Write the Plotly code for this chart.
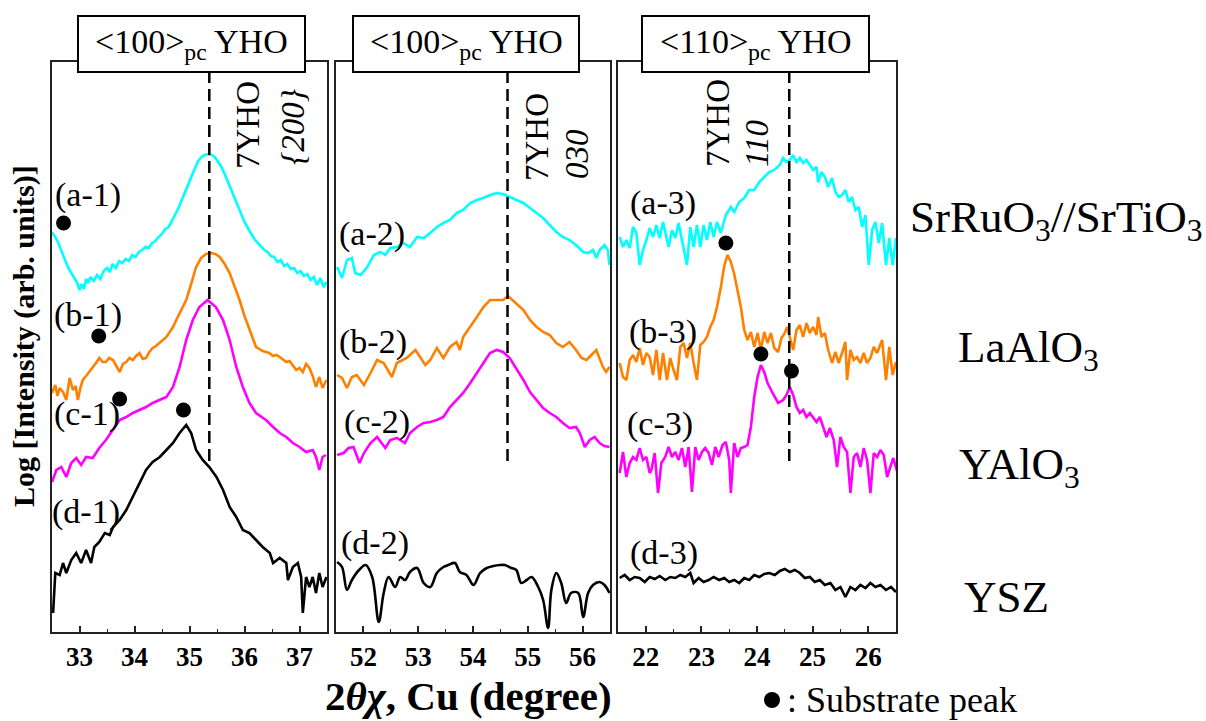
import plotly.graph_objects as go

# ---------------- data (2theta-chi in degrees, offset log-intensity in a.u.) ----------------
# Panel 1 : <100>pc YHO, 7YHO {200}
a1_x = [32.49,32.55,32.60,32.66,32.72,32.78,32.84,32.90,32.96,33.00,
        33.04,33.08,33.12,33.16,33.20,33.26,33.32,33.38,33.44,33.50,
        33.55,33.60,33.66,33.72,33.78,33.84,33.90,33.96,34.02,34.08,
        34.14,34.20,34.26,34.32,34.38,34.44,34.50,34.56,34.62,34.68,
        34.74,34.80,34.86,34.92,34.98,35.04,35.10,35.16,35.22,35.28,
        35.34,35.40,35.46,35.52,35.58,35.64,35.70,35.76,35.82,35.88,
        35.94,36.00,36.06,36.12,36.18,36.24,36.30,36.36,36.42,36.48,
        36.54,36.60,36.66,36.72,36.78,36.84,36.90,36.96,37.02,37.08,
        37.14,37.20,37.26,37.32,37.38,37.44,37.49]
a1_y = [4.00,3.96,3.91,3.82,3.74,3.66,3.60,3.54,3.49,3.42,
        3.48,3.43,3.53,3.49,3.55,3.51,3.57,3.53,3.61,3.64,
        3.60,3.68,3.64,3.71,3.69,3.73,3.71,3.77,3.75,3.80,
        3.82,3.85,3.84,3.89,3.91,3.95,3.98,4.03,4.05,4.11,
        4.17,4.24,4.32,4.40,4.49,4.57,4.64,4.71,4.75,4.77,
        4.78,4.77,4.75,4.70,4.65,4.58,4.50,4.42,4.34,4.26,
        4.18,4.10,4.04,3.98,3.93,3.89,3.85,3.82,3.80,3.76,
        3.75,3.70,3.72,3.66,3.68,3.63,3.64,3.59,3.61,3.56,
        3.58,3.52,3.55,3.47,3.54,3.45,3.50]

b1_x = [32.50,32.56,32.60,32.64,32.70,32.76,32.82,32.88,32.93,32.97,
        33.02,33.06,33.12,33.18,33.24,33.30,33.36,33.42,33.48,33.54,
        33.61,33.67,33.73,33.79,33.85,33.91,33.97,34.03,34.09,34.15,
        34.21,34.27,34.33,34.39,34.45,34.51,34.58,34.64,34.70,34.76,
        34.82,34.88,34.94,35.03,35.12,35.21,35.30,35.39,35.47,35.55,
        35.64,35.73,35.82,35.91,36.00,36.09,36.15,36.21,36.27,36.33,
        36.39,36.45,36.52,36.58,36.64,36.70,36.76,36.82,36.88,36.94,
        37.00,37.06,37.12,37.18,37.24,37.30,37.36,37.42,37.49]
b1_y = [2.39,2.47,2.36,2.44,2.40,2.32,2.54,2.42,2.46,2.32,
        2.45,2.52,2.56,2.60,2.64,2.69,2.74,2.70,2.70,2.74,
        2.72,2.66,2.60,2.68,2.70,2.74,2.72,2.76,2.79,2.73,
        2.74,2.80,2.84,2.86,2.89,2.91,2.95,3.00,3.05,3.12,
        3.19,3.26,3.32,3.48,3.65,3.74,3.78,3.79,3.78,3.75,
        3.68,3.59,3.46,3.32,3.16,3.02,2.93,2.85,2.83,2.81,
        2.80,2.79,2.76,2.77,2.75,2.72,2.70,2.71,2.67,2.62,
        2.64,2.60,2.68,2.64,2.56,2.45,2.55,2.44,2.52]

c1_x = [32.50,32.58,32.67,32.76,32.85,32.94,33.03,33.12,33.24,33.36,
        33.48,33.61,33.73,33.85,33.97,34.09,34.21,34.33,34.45,34.58,
        34.70,34.82,34.94,35.06,35.18,35.33,35.48,35.61,35.73,35.85,
        35.97,36.09,36.21,36.39,36.52,36.64,36.76,36.88,37.00,37.12,
        37.24,37.30,37.36,37.42,37.48]
c1_y = [1.50,1.62,1.65,1.55,1.69,1.74,1.67,1.75,1.74,1.84,
        1.92,2.02,2.12,2.15,2.19,2.22,2.25,2.29,2.32,2.35,
        2.45,2.65,2.92,3.12,3.25,3.32,3.25,3.12,2.92,2.65,
        2.45,2.29,2.19,2.12,2.05,1.99,1.95,1.89,1.85,1.80,
        1.82,1.75,1.62,1.75,1.77]

d1_x = [32.52,32.56,32.64,32.70,32.76,32.85,32.94,33.03,33.12,33.21,
        33.27,33.36,33.46,33.55,33.61,33.73,33.85,33.97,34.09,34.21,
        34.33,34.46,34.58,34.70,34.82,34.94,35.03,35.12,35.24,35.36,
        35.49,35.61,35.73,35.85,35.97,36.09,36.21,36.33,36.46,36.52,
        36.64,36.76,36.79,36.88,36.97,37.03,37.06,37.12,37.18,37.24,
        37.30,37.36,37.42,37.49]
d1_y = [0.19,0.59,0.57,0.69,0.59,0.72,0.79,0.69,0.82,0.69,
        0.85,0.90,0.99,0.97,1.05,1.12,1.22,1.35,1.49,1.62,
        1.70,1.75,1.82,1.89,1.99,2.07,1.99,1.82,1.72,1.65,
        1.55,1.42,1.25,1.15,1.02,0.99,0.92,0.85,0.79,0.69,
        0.74,0.69,0.52,0.65,0.69,0.55,0.19,0.55,0.45,0.55,
        0.39,0.59,0.45,0.55]

# Panel 2 : <100>pc YHO, 7YHO 030
a2_x = [51.52,51.61,51.70,51.79,51.85,51.95,52.07,52.19,52.31,52.40,
        52.49,52.61,52.73,52.85,52.98,53.10,53.22,53.34,53.46,53.58,
        53.70,53.82,53.95,54.07,54.19,54.31,54.43,54.55,54.67,54.79,
        54.92,55.04,55.16,55.28,55.40,55.52,55.64,55.76,55.88,56.01,
        56.10,56.19,56.25,56.31,56.40,56.46,56.49]
a2_y = [3.65,3.54,3.72,3.74,3.59,3.57,3.65,3.77,3.80,3.77,
        3.84,3.85,3.89,3.85,3.95,3.94,3.99,4.05,4.09,4.12,
        4.19,4.22,4.29,4.32,4.34,4.37,4.39,4.38,4.35,4.32,
        4.29,4.24,4.19,4.14,4.07,4.00,3.95,3.92,3.87,3.80,
        3.79,3.82,3.74,3.82,3.87,3.82,3.67]

b2_x = [51.52,51.61,51.70,51.79,51.88,52.01,52.13,52.25,52.37,52.52,
        52.61,52.79,52.95,53.04,53.13,53.22,53.34,53.46,53.58,53.70,
        53.76,53.82,53.95,54.07,54.19,54.31,54.43,54.55,54.64,54.79,
        54.92,55.04,55.16,55.28,55.40,55.52,55.64,55.76,55.88,55.98,
        56.07,56.16,56.25,56.37,56.43,56.49]
b2_y = [2.57,2.54,2.44,2.55,2.57,2.47,2.59,2.72,2.69,2.55,
        2.69,2.74,2.82,2.74,2.67,2.72,2.84,2.74,2.85,2.90,
        2.82,2.95,3.05,3.15,3.25,3.32,3.32,3.32,3.36,3.29,
        3.22,3.12,3.05,3.00,2.97,2.89,2.85,2.90,2.82,2.74,
        2.72,2.77,2.82,2.65,2.60,2.65]

c2_x = [51.52,51.64,51.73,51.82,51.93,52.01,52.13,52.25,52.40,52.49,
        52.61,52.76,52.85,52.98,53.10,53.22,53.34,53.46,53.58,53.70,
        53.82,53.95,54.07,54.19,54.31,54.43,54.55,54.67,54.79,54.92,
        55.04,55.16,55.28,55.40,55.52,55.64,55.76,55.88,55.95,56.04,
        56.13,56.22,56.31,56.40,56.49]
c2_y = [1.77,1.79,1.84,1.85,1.69,1.79,1.89,1.95,1.84,1.92,
        1.94,1.89,1.99,2.05,2.09,2.10,2.12,2.15,2.25,2.32,
        2.39,2.49,2.59,2.70,2.79,2.82,2.80,2.74,2.64,2.52,
        2.40,2.32,2.24,2.19,2.15,2.09,2.04,2.05,1.99,1.85,
        1.92,1.95,1.89,1.86,1.85]

d2_x = [51.52,51.61,51.70,51.79,51.92,52.04,52.16,52.28,52.37,52.46,
        52.58,52.67,52.76,52.85,52.98,53.10,53.22,53.34,53.46,53.55,
        53.67,53.76,53.88,54.01,54.13,54.25,54.37,54.49,54.58,54.70,
        54.79,54.88,54.98,55.07,55.19,55.28,55.37,55.43,55.52,55.61,
        55.70,55.79,55.92,56.01,56.10,56.19,56.31,56.40,56.49]
d2_y = [0.70,0.65,0.42,0.52,0.62,0.67,0.55,0.10,0.39,0.55,
        0.45,0.55,0.52,0.60,0.64,0.49,0.45,0.59,0.65,0.67,
        0.69,0.60,0.57,0.47,0.59,0.64,0.66,0.67,0.67,0.64,
        0.62,0.49,0.52,0.55,0.45,0.32,0.04,0.42,0.59,0.49,
        0.29,0.39,0.39,0.15,0.39,0.47,0.50,0.47,0.39]

# Panel 3 : <110>pc YHO, 7YHO 110
a3_x = [21.53,21.59,21.65,21.71,21.77,21.83,21.89,21.95,22.01,22.07,
        22.13,22.19,22.25,22.31,22.41,22.47,22.53,22.59,22.65,22.74,
        22.80,22.86,22.92,22.98,23.04,23.10,23.16,23.22,23.28,23.35,
        23.44,23.53,23.59,23.68,23.77,23.86,23.95,24.04,24.13,24.22,
        24.31,24.41,24.47,24.53,24.59,24.65,24.71,24.77,24.83,24.89,
        24.95,25.01,25.07,25.10,25.16,25.22,25.28,25.35,25.41,25.47,
        25.53,25.59,25.65,25.71,25.77,25.83,25.89,25.95,26.01,26.07,
        26.13,26.19,26.25,26.32,26.38,26.44,26.50]
a3_y = [3.95,3.85,3.92,3.84,4.05,3.99,3.67,3.82,3.92,4.04,
        3.95,4.07,3.94,4.10,3.85,4.02,3.94,4.09,3.92,3.67,
        4.05,3.85,4.07,3.85,4.07,3.92,4.10,3.95,4.10,3.99,
        4.17,4.25,4.20,4.30,4.34,4.42,4.42,4.50,4.55,4.60,
        4.62,4.67,4.74,4.70,4.72,4.77,4.70,4.74,4.69,4.72,
        4.67,4.62,4.65,4.50,4.60,4.55,4.45,4.54,4.40,4.35,
        4.37,4.42,4.30,4.35,4.22,4.25,4.05,4.17,3.67,4.02,
        4.10,3.89,4.09,3.67,3.94,3.67,3.94]

b3_x = [21.53,21.59,21.65,21.71,21.77,21.83,21.89,21.95,22.01,22.07,
        22.13,22.19,22.25,22.31,22.38,22.44,22.50,22.56,22.62,22.68,
        22.74,22.80,22.86,22.92,22.98,23.04,23.10,23.16,23.22,23.28,
        23.35,23.41,23.47,23.53,23.59,23.65,23.71,23.77,23.83,23.89,
        23.95,24.01,24.07,24.13,24.19,24.25,24.31,24.38,24.44,24.50,
        24.54,24.59,24.65,24.71,24.77,24.83,24.89,24.95,25.01,25.07,
        25.10,25.16,25.22,25.28,25.35,25.41,25.47,25.53,25.59,25.62,
        25.68,25.74,25.80,25.86,25.92,25.98,26.04,26.10,26.16,26.25,
        26.32,26.38,26.44,26.50]
b3_y = [2.69,2.55,2.52,2.72,2.77,2.70,2.84,2.67,2.79,2.75,
        2.57,2.82,2.52,2.79,2.52,2.74,2.62,2.52,2.85,2.89,
        2.74,2.89,2.69,2.52,2.87,2.90,2.95,3.05,3.12,3.25,
        3.45,3.66,3.77,3.70,3.58,3.42,3.25,3.02,2.92,3.00,
        2.85,2.99,2.82,3.00,2.89,2.99,2.84,2.80,2.94,2.99,
        3.05,2.95,2.82,3.02,3.07,2.95,3.09,2.99,3.05,2.97,
        3.15,2.95,2.99,2.82,2.69,2.80,2.69,2.79,2.90,2.52,
        2.82,2.72,2.75,2.69,2.79,2.69,2.74,2.85,2.79,2.92,
        2.52,2.85,2.57,2.70]

c3_x = [21.53,21.59,21.65,21.71,21.77,21.83,21.89,21.95,22.01,22.07,
        22.10,22.16,22.22,22.28,22.35,22.41,22.47,22.53,22.59,22.65,
        22.71,22.77,22.83,22.89,22.95,23.01,23.07,23.13,23.19,23.25,
        23.31,23.38,23.44,23.50,23.53,23.59,23.65,23.71,23.77,23.83,
        23.89,23.95,24.01,24.07,24.13,24.19,24.28,24.38,24.47,24.53,
        24.59,24.65,24.71,24.77,24.83,24.89,24.95,25.01,25.07,25.13,
        25.19,25.25,25.31,25.38,25.44,25.50,25.56,25.62,25.68,25.74,
        25.80,25.86,25.92,25.98,26.04,26.10,26.16,26.22,26.28,26.34,
        26.45,26.53]
c3_y = [1.59,1.80,1.55,1.69,1.75,1.72,1.84,1.72,1.75,1.59,
        1.62,1.79,1.39,1.69,1.75,1.85,1.75,1.80,1.72,1.84,
        1.65,1.85,1.40,1.85,1.72,1.80,1.84,1.79,1.67,1.85,
        1.75,1.87,1.90,1.72,1.39,1.89,1.75,1.84,1.85,1.87,
        2.05,2.35,2.55,2.67,2.60,2.49,2.39,2.29,2.32,2.37,
        2.45,2.37,2.25,2.19,2.22,2.15,2.19,2.14,2.10,2.15,
        2.04,1.95,2.04,1.92,1.65,1.95,1.85,1.80,1.39,1.75,
        1.79,1.65,1.84,1.72,1.39,1.79,1.75,1.82,1.77,1.55,
        1.74,1.59]

d3_x = [21.53,21.62,21.71,21.80,21.89,21.98,22.07,22.16,22.25,22.35,
        22.44,22.53,22.62,22.71,22.80,22.86,22.95,23.04,23.13,23.22,
        23.32,23.41,23.50,23.59,23.68,23.77,23.86,23.95,24.04,24.13,
        24.22,24.32,24.41,24.50,24.59,24.68,24.77,24.86,24.95,25.04,
        25.13,25.22,25.32,25.41,25.50,25.59,25.68,25.77,25.86,25.95,
        26.04,26.13,26.22,26.32,26.41,26.50]
d3_y = [0.54,0.57,0.52,0.55,0.54,0.50,0.55,0.53,0.56,0.52,
        0.55,0.54,0.57,0.55,0.59,0.49,0.54,0.50,0.52,0.55,
        0.52,0.54,0.50,0.52,0.49,0.54,0.52,0.57,0.55,0.58,
        0.59,0.57,0.61,0.63,0.60,0.62,0.59,0.54,0.55,0.50,
        0.52,0.47,0.49,0.42,0.45,0.35,0.45,0.42,0.47,0.44,
        0.49,0.45,0.47,0.42,0.45,0.40]

# substrate peak markers
sub1_x = [32.71, 33.35, 33.73, 34.89]
sub1_y = [4.09, 2.96, 2.33, 2.22]
sub3_x = [23.44, 24.07, 24.62]
sub3_y = [3.89, 2.78, 2.61]

# 7YHO reference peak positions (dashed lines) and their y extent
peak_pos = [35.36, 54.63, 24.58]
peak_y = [1.71, 5.62]

x_ranges = [[32.5, 37.5], [51.5, 56.5], [21.5, 26.5]]
tick_vals = [[33, 34, 35, 36, 37], [52, 53, 54, 55, 56], [22, 23, 24, 25, 26]]
panel_titles = ["&lt;100&gt;<sub>pc</sub> YHO", "&lt;100&gt;<sub>pc</sub> YHO",
                "&lt;110&gt;<sub>pc</sub> YHO"]
substrates = ["SrRuO<sub>3</sub>//SrTiO<sub>3</sub>", "LaAlO<sub>3</sub>",
              "YAlO<sub>3</sub>", "YSZ"]

for xs, ys in [(a1_x, a1_y), (b1_x, b1_y), (c1_x, c1_y), (d1_x, d1_y),
               (a2_x, a2_y), (b2_x, b2_y), (c2_x, c2_y), (d2_x, d2_y),
               (a3_x, a3_y), (b3_x, b3_y), (c3_x, c3_y), (d3_x, d3_y)]:
    assert len(xs) == len(ys), (len(xs), len(ys))

# ---------------- figure ----------------
W, H = 1206, 721
ML, MR, MT, MB = 52, 310, 62, 89
PW, PH = W - ML - MR, H - MT - MB


def px(x):
    return (x - ML) / PW


def py(y):
    return (H - MB - y) / PH


FONT = "Liberation Serif, Times New Roman, serif"
CY, OR, MG, BK = "#00FFFF", "#FF8000", "#FF00FF", "#000000"

fig = go.Figure()
series = [
    ("x", "y", [(a1_x, a1_y, CY), (b1_x, b1_y, OR), (c1_x, c1_y, MG), (d1_x, d1_y, BK)]),
    ("x2", "y2", [(a2_x, a2_y, CY), (b2_x, b2_y, OR), (c2_x, c2_y, MG), (d2_x, d2_y, BK)]),
    ("x3", "y3", [(a3_x, a3_y, CY), (b3_x, b3_y, OR), (c3_x, c3_y, MG), (d3_x, d3_y, BK)]),
]
for xa, ya, curves in series:
    for xs, ys, col in curves:
        shape = "spline" if (xa == "x2" and col == BK) else "linear"
        fig.add_trace(go.Scatter(x=xs, y=ys, mode="lines", xaxis=xa, yaxis=ya,
                                 line=dict(color=col, width=2.6, shape=shape),
                                 showlegend=False, hoverinfo="skip"))

fig.add_trace(go.Scatter(x=sub1_x, y=sub1_y, mode="markers", xaxis="x", yaxis="y",
                         marker=dict(color="black", size=15), showlegend=False))
fig.add_trace(go.Scatter(x=sub3_x, y=sub3_y, mode="markers", xaxis="x3", yaxis="y3",
                         marker=dict(color="black", size=15), showlegend=False))

domains = [[px(52), px(327)], [px(336), px(610)], [px(618), px(896)]]
layout = dict(width=W, height=H, margin=dict(l=ML, r=MR, t=MT, b=MB),
              paper_bgcolor="white", plot_bgcolor="white", showlegend=False)
for i in range(3):
    sfx = "" if i == 0 else str(i + 1)
    layout["xaxis" + sfx] = dict(
        domain=domains[i], range=x_ranges[i], anchor="y" + sfx,
        showline=True, mirror=True, linecolor="#222", linewidth=2,
        ticks="inside", ticklen=6, tickwidth=1.5, tickcolor="#222",
        tickvals=tick_vals[i], showgrid=False, zeroline=False,
        minor=dict(ticks="inside", ticklen=3, tickwidth=1.2, dtick=0.5, tick0=0, tickcolor="#222"),
        tickfont=dict(family=FONT, size=27, color="black", weight="bold"))
    layout["yaxis" + sfx] = dict(
        domain=[0, 1], range=[0, 5.70], anchor="x" + sfx,
        showline=True, mirror=True, linecolor="#222", linewidth=2,
        ticks="", showticklabels=False, showgrid=False, zeroline=False)
fig.update_layout(**layout)

# dashed reference lines
for i, xp in enumerate(peak_pos):
    sfx = "" if i == 0 else str(i + 1)
    fig.add_shape(type="line", xref="x" + sfx, yref="y" + sfx, x0=xp, x1=xp,
                  y0=peak_y[0], y1=peak_y[1],
                  line=dict(color="black", width=2.5, dash="12px,6px"))


def note(text, x, y, size, xanchor="center", angle=0):
    fig.add_annotation(x=px(x), y=py(y), xref="paper", yref="paper", text=text,
                       xanchor=xanchor, yanchor="middle", textangle=angle,
                       showarrow=False, font=dict(family=FONT, size=size, color="black"))


# title boxes
boxes = [(78, 305), (353, 579), (642, 869)]
for i, (x0, x1) in enumerate(boxes):
    fig.add_shape(type="rect", xref="paper", yref="paper", x0=px(x0), x1=px(x1),
                  y0=py(72), y1=py(16), fillcolor="white",
                  line=dict(color="black", width=2), layer="above")
    note(panel_titles[i], (x0 + x1) / 2, 44, 34)

# curve labels
labels = [("(a-1)", 88, 195), ("(b-1)", 88, 315), ("(c-1)", 87, 414), ("(d-1)", 86, 512),
          ("(a-2)", 372, 234), ("(b-2)", 373, 342), ("(c-2)", 377, 422), ("(d-2)", 375, 543),
          ("(a-3)", 663, 203), ("(b-3)", 663, 332), ("(c-3)", 660, 424), ("(d-3)", 664, 553)]
for t, x, y in labels:
    note(t, x, y, 34)

# rotated peak labels
rot = [("7YHO", 248, 125, False), ("{200}", 293, 127, True),
       ("7YHO", 537, 137, False), ("030", 577, 154, True),
       ("7YHO", 718, 123, False), ("110", 757, 143, True)]
for t, x, y, it in rot:
    note(("<i>%s</i>" % t) if it else t, x, y, 33, angle=-90)

# substrate names
subs_pos = [(908, 220), (956, 350), (957, 467), (962, 597)]
for t, (x, y) in zip(substrates, subs_pos):
    note(t, x, y, 45, xanchor="left")

# axis titles and legend note
note("<b>Log [Intensity (arb. units)]</b>", 24, 336, 30, angle=-90)
note("<b>2<i>θχ</i>, Cu (degree)</b>", 468, 696, 41)
fig.add_shape(type="circle", xref="paper", yref="paper",
              x0=px(764), x1=px(780), y0=py(708), y1=py(692),
              fillcolor="black", line=dict(color="black", width=0))
note(": Substrate peak", 785, 700, 36, xanchor="left")

fig.write_html("out.html", post_script="document.body.style.margin='0';",
               config={"displayModeBar": False})
